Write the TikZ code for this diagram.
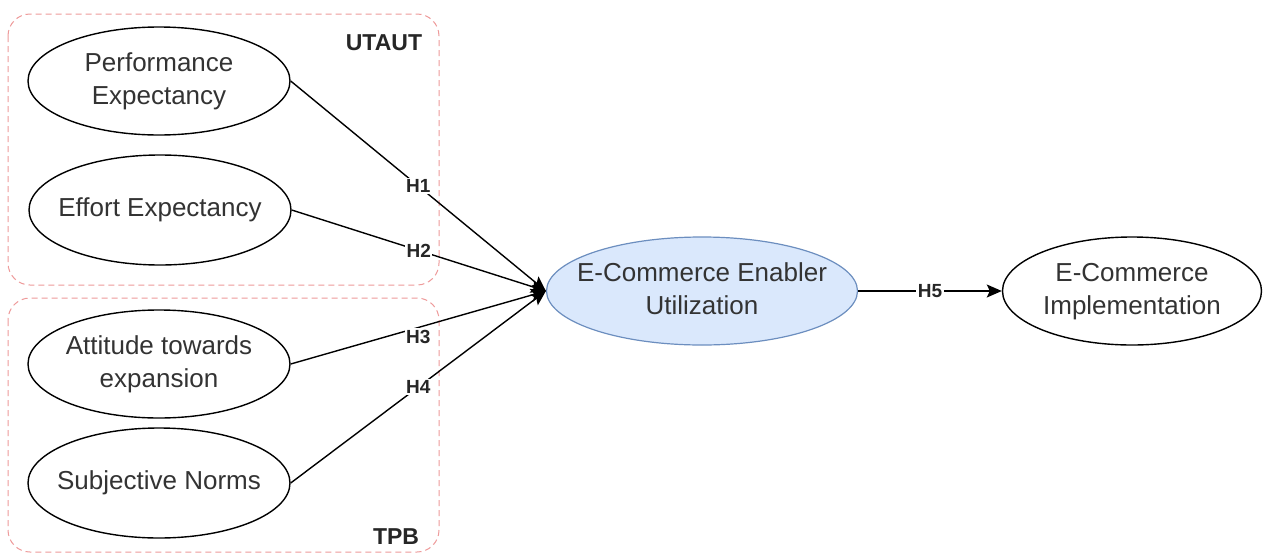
\documentclass[tikz,border=0pt]{standalone}
\usepackage{fontspec}
\setmainfont{Liberation Sans}
\usetikzlibrary{shapes.geometric,arrows.meta}
\definecolor{txt}{HTML}{333333}
\definecolor{grpred}{HTML}{EE9A9A}
\definecolor{bluefill}{HTML}{DAE8FC}
\definecolor{blueline}{HTML}{6C8EBF}
% centred text block that does not widen its ellipse
\newcommand{\ctext}[1]{\makebox[0pt][c]{\begin{tabular}{@{}c@{}}#1\end{tabular}}}
\tikzset{
  construct/.style={shape=ellipse, draw=black, line width=1.4pt, fill=white,
    inner sep=0pt, text=txt,
    font=\fontsize{26}{33}\selectfont},
  central/.style={construct, fill=bluefill, draw=blueline, line width=1.2pt},
  group/.style={draw=grpred, line width=1pt, dash pattern=on 6pt off 4pt,
    rounded corners=22pt},
  grouptitle/.style={font=\fontsize{23}{27}\selectfont\bfseries, text=black!85,
    inner sep=0pt},
  hlab/.style={font=\fontsize{19}{22}\selectfont\bfseries, text=black!85,
    fill=white, inner sep=1.5pt},
  conn/.style={draw=black, line width=1.4pt,
    -{Stealth[length=15pt,width=13pt,inset=3pt]}}
}
\begin{document}
\begin{tikzpicture}[x=1pt,y=-1pt]
  \useasboundingbox (0,0) rectangle (1267,555);
  \fill[white] (0,0) rectangle (1267,555);

  % theory groups
  \draw[group] (8,14) rectangle (439,285);
  \draw[group] (8,298) rectangle (439,552);
  \node[grouptitle] (utaut) at (384,43) {UTAUT};
  \node[grouptitle] (tpb) at (396,537) {TPB};

  % constructs
  \node[construct, minimum width=262pt, minimum height=108pt] (pe) at (159,81)
    {\ctext{Performance\\Expectancy}};
  \node[construct, minimum width=262pt, minimum height=110pt] (ee) at (160,210)
    {\ctext{Effort Expectancy}};
  \node[construct, minimum width=262pt, minimum height=108pt] (at) at (159,364)
    {\ctext{Attitude towards\\expansion}};
  \node[construct, minimum width=262pt, minimum height=110pt] (sn) at (159,483)
    {\ctext{Subjective Norms}};
  \node[central, minimum width=311pt, minimum height=108pt] (eu) at (702,291)
    {\ctext{E-Commerce Enabler\\Utilization}};
  \node[construct, minimum width=259pt, minimum height=108pt] (ei) at (1132,291)
    {\ctext{E-Commerce\\Implementation}};

  % hypotheses
  \draw[conn] (pe.east) -- node[hlab] {H1} (eu.west);
  \draw[conn] (ee.east) -- node[hlab] {H2} (eu.west);
  \draw[conn] (at.east) -- node[hlab, yshift=-9pt] {H3} (eu.west);
  \draw[conn] (sn.east) -- node[hlab] {H4} (eu.west);
  \draw[conn] (eu.east) -- node[hlab] {H5} (ei.west);
\end{tikzpicture}
\end{document}
